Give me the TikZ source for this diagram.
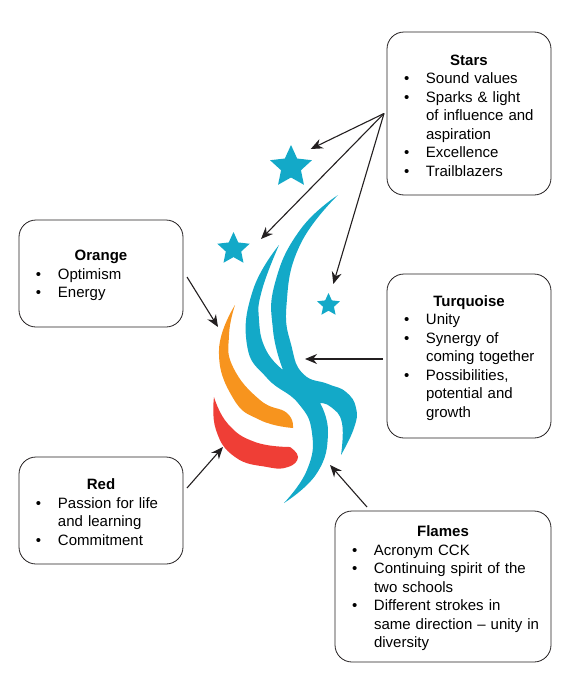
\documentclass[tikz,border=0pt]{standalone}
\usepackage{fontspec}
\setmainfont{Liberation Sans}
\usetikzlibrary{shapes.geometric, arrows.meta, positioning}
\definecolor{flameblue}{HTML}{13A9C8}
\definecolor{flameorange}{HTML}{F7941E}
\definecolor{flamered}{HTML}{EF3E36}
\definecolor{ink}{HTML}{231F20}
\newcommand{\boxhead}[1]{\makebox[\linewidth][c]{\rule{0pt}{14.5pt}\bfseries #1}\par}
\newcommand{\itm}{\par\hangindent=35pt\hangafter=1\hspace*{13pt}\makebox[22pt][l]{\textbullet}\ignorespaces}

\begin{document}
\begin{tikzpicture}[
  x=1pt, y=-1pt,
  node distance = 73pt,
  box/.style    = {rectangle, rounded corners=17pt, draw=ink, line width=0.8pt, outer sep=0pt,
                   inner xsep=4pt, inner ysep=0pt, text width=#1, align=left, text=black,
                   font=\fontsize{15}{18.5}\selectfont},
  starshape/.style = {star, star points=5, star point ratio=2.1, fill=flameblue, inner sep=0pt,
                      minimum size=#1},
  arrow/.style  = {-{Stealth[length=12pt,width=10pt]}, line width=1.1pt, color=ink},
  curve/.style  = {smooth, tension=0.8},
]
  \useasboundingbox (0,0) rectangle (574,688);

  \node[box=156pt, minimum height=107pt] (orange) at (101,273.5)
    {\boxhead{Orange}\itm Optimism\itm Energy\par};
  \node[box=156pt, minimum height=107pt, below=130pt of orange] (red)
    {\boxhead{Red}\itm Passion for life\newline and learning\itm Commitment\par};
  \node[box=156pt, minimum height=164pt, right=204pt of orange, yshift=-82.5pt] (turq)
    {\boxhead{Turquoise}\itm Unity\itm Synergy of\newline coming together\itm Possibilities,\newline potential and\newline growth\par};
  \node[box=156pt, minimum height=163pt, above=79pt of turq] (stars)
    {\boxhead{Stars}\itm Sound values\itm Sparks \& light\newline of influence and\newline aspiration\itm Excellence\itm Trailblazers\par};
  \node[box=208pt, minimum height=151pt, below=73pt of turq, xshift=-26pt] (flames)
    {\boxhead{Flames}\itm Acronym CCK\itm Continuing spirit of the\newline two schools\itm Different strokes in\newline same direction -- unity in\newline diversity\par};

  \node[starshape=44pt] (bigstar) at (291,167) {};
  \node[starshape=34pt] (midstar) at (233.5,249) {};
  \node[starshape=24pt] (smallstar) at (328.5,305) {};

  % flames
  \fill[flameblue]
    plot[curve] coordinates {(338,195) (300,245) (286.5,305) (291.7,347) (303.3,374) (328,384) (346,392) (356,408) (354,428) (341,455)}
    -- plot[curve] coordinates {(341,455) (342,423) (331,407) (320,403)}
    -- plot[curve] coordinates {(320,403) (328,433) (317,473) (284,503)}
    -- plot[curve] coordinates {(284,503) (307,470) (312,433) (298,403) (267,378) (247,345) (253,290) (279,245)}
    -- plot[curve] coordinates {(279,245) (262,290) (259,320) (266,350) (283,370)}
    -- plot[curve] coordinates {(283,370) (273,330) (275,283) (300,230) (338,195)}
    -- cycle;
  \fill[flameorange]
    plot[curve] coordinates {(235,305) (219,350) (233,398) (260,420) (293,428)}
    -- plot[curve] coordinates {(293,428) (287,413) (260,400) (233,367) (229,335) (235,305)}
    -- cycle;
  \fill[flamered]
    plot[curve] coordinates {(214,397) (216,430) (235,457) (267,467) (288,467) (298,457) (290,447)}
    -- plot[curve] coordinates {(290,447) (255,442) (228,424) (214,397)}
    -- cycle;

  \coordinate (fan) at ([xshift=-3pt]stars.west);
  \coordinate (bigend) at (310.7,149);
  \coordinate (midend) at (261,239);
  \coordinate (smallend) at (333.3,284);
  \coordinate (orangeout) at (187,277);
  \coordinate (orangeend) at (218,327);
  \coordinate (redout) at (187,488);
  \coordinate (redend) at (223,447);
  \coordinate (turqout) at (383,359);
  \coordinate (turqend) at (305,359);
  \coordinate (flamesout) at (367,507);
  \coordinate (flamesend) at (330,465);

  \draw[arrow] (fan) -- (bigend);
  \draw[arrow] (fan) -- (midend);
  \draw[arrow] (fan) -- (smallend);
  \draw[arrow] (orangeout) -- (orangeend);
  \draw[arrow] (redout) -- (redend);
  \draw[arrow] (turqout) -- (turqend);
  \draw[arrow] (flamesout) -- (flamesend);
\end{tikzpicture}
\end{document}
